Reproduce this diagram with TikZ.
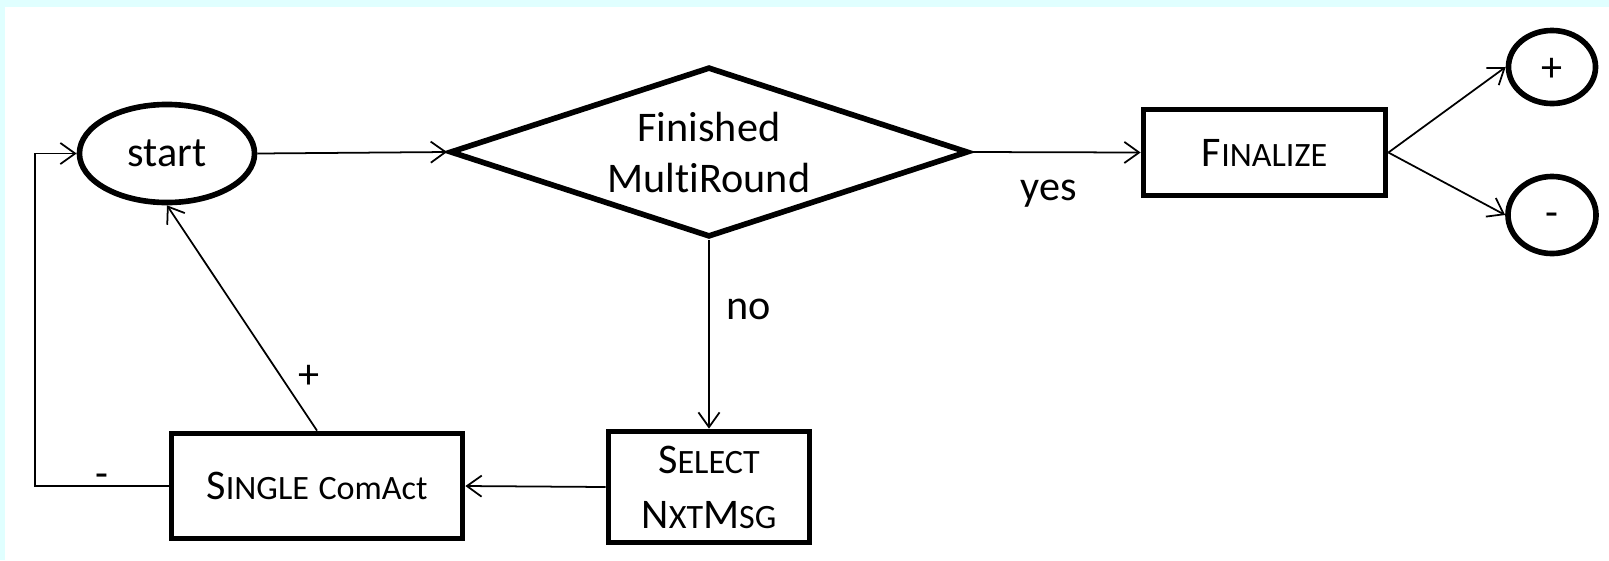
\documentclass[tikz,border=0pt]{standalone}
\usepackage{fontspec}
\setmainfont{Carlito}[RawFeature={-liga;-dlig}]
\usetikzlibrary{shapes.geometric,arrows.meta}
\definecolor{framecyan}{RGB}{224,255,255}
% synthetic small capitals: the rest of a word in smaller capitals
\newcommand\smc[1]{{\fontsize{9.7pt}{11pt}\selectfont #1}}
\begin{document}
\begin{tikzpicture}[x=0.01cm,y=-0.01cm,
  font=\fontsize{12pt}{14.5pt}\selectfont,
  shapeline/.style={draw, line width=1.6pt, inner sep=0pt},
  oval/.style={ellipse, shapeline},
  box/.style={rectangle, shapeline, align=center},
  conn/.style={line width=0.5pt, -{Straight Barb[length=4.2pt,width=6pt]}},
  dashlabel/.style={text height=0.5em, text depth=0pt, inner sep=0pt}]
\useasboundingbox (0,0) rectangle (1609,560);
\fill[white] (0,0) rectangle (1609,560);
\fill[framecyan] (0,0) rectangle (1609,7);
\fill[framecyan] (0,0) rectangle (5,560);

% nodes
\node[oval, minimum width=1.75cm, minimum height=0.98cm] (start) at (167,153.5) {start};
\node[diamond, shapeline, aspect=3.05, minimum width=5.18cm, minimum height=1.70cm,
      align=center] (dec) at (709,152) {Finished\\MultiRound};
\node[box, minimum width=2.42cm, minimum height=0.86cm] (fin) at (1264.5,152.5) {F\smc{INALIZE}};
\node[oval, minimum width=0.87cm, minimum height=0.73cm, text height=0.82em, text depth=0pt] (pos) at (1552,67) {+};
\node[oval, minimum width=0.88cm, minimum height=0.77cm, text height=0.65em, text depth=0pt] (neg) at (1552,215) {-};
\node[box, minimum width=2.91cm, minimum height=1.05cm] (single) at (317,486) {S\smc{INGLE} \smc{ComAct}};
\node[box, minimum width=2.01cm, minimum height=1.11cm,
      font=\fontsize{12pt}{15.6pt}\selectfont] (sel) at (709,487) {S\smc{ELECT}\\N\smc{XT}M\smc{SG}};
\coordinate (loop) at (35,486);

% connectors
\draw[conn] (start.east) -- (dec.west);
\draw[conn] (dec.east) -- node[pos=0.46, yshift=-0.41cm] {yes} (fin.west);
\draw[conn] (fin.east) -- (pos.west);
\draw[conn] (fin.east) -- (neg.west);
\draw[conn] (dec.south) -- node[pos=0.37, xshift=0.40cm] {no} (sel.north);
\draw[conn] (sel.west) -- (single.east);
\draw[conn] (single.north) -- node[pos=0.24, xshift=0.28cm] {+} (start.south);
\draw[conn] (single.west) -- node[midway, dashlabel, yshift=0.07cm] {-} (loop) |- (start.west);
\end{tikzpicture}
\end{document}
